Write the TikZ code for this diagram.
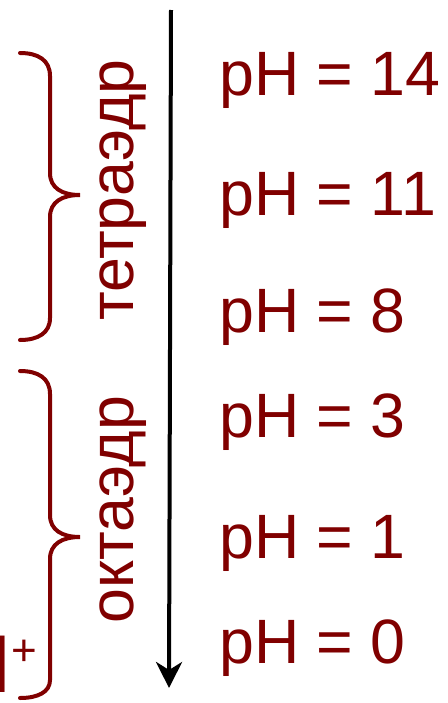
\documentclass[tikz,border=0pt]{standalone}
\usepackage{fontspec}
\setmainfont{Liberation Sans}
\usetikzlibrary{arrows.meta}
\definecolor{phred}{RGB}{128,0,0}

\begin{document}
\begin{tikzpicture}[x=0.75pt,y=0.75pt,yscale=-1,xscale=1]
\useasboundingbox (0,0) rectangle (448,703);
\tikzset{
  phlabel/.style={anchor=base west, inner sep=0pt, text=phred, font=\fontsize{47}{56}\selectfont},
  geomlabel/.style={rotate=90, anchor=base west, inner sep=0pt, text=phred, font=\fontsize{47}{56}\selectfont},
  bracket/.style={draw=phred, line width=3pt, line cap=round},
}

%Straight Lines [axis]
\coordinate (axtop) at (171,10);
\coordinate (axbot) at (169,688);
\draw [line width=3pt, -{Stealth[length=19.5pt,width=19.5pt,inset=6pt]}] (axtop) -- (axbot);

%Shape: Brace [tetra]
\draw [bracket] (20,53) .. controls (38,53) and (50,60) .. (50,76) -- (50,173) .. controls (50,188) and (62,195) .. (80,195) .. controls (62,195) and (50,202) .. (50,217) -- (50,318) .. controls (50,333) and (38,340) .. (20,340) ;
%Shape: Brace [octa]
\draw [bracket] (20,371) .. controls (38,371) and (50,378) .. (50,394) -- (50,515) .. controls (50,530) and (62,537) .. (80,537) .. controls (62,537) and (50,544) .. (50,559) -- (50,680) .. controls (50,692) and (38,698) .. (20,698) ;

% Text Node
\node [phlabel] (ph14) at (219,95) {pH = 14};
% Text Node
\node [phlabel] (ph11) at (219,215) {pH = 11};
% Text Node
\node [phlabel] (ph8) at (219,332) {pH = 8};
% Text Node
\node [phlabel] (ph3) at (219,437) {pH = 3};
% Text Node
\node [phlabel] (ph1) at (219,558) {pH = 1};
% Text Node
\node [phlabel] (ph0) at (219,663) {pH = 0};

% Text Node
\node [geomlabel] (tetra) at (133,321) {тетраэдр};
% Text Node
\node [geomlabel] (octa) at (133,624) {октаэдр};

% Text Node
\node [anchor=base west, inner sep=0pt, text=phred, font=\fontsize{61.5}{70}\selectfont] (hplus) at (-47.6,692) {H\raisebox{20pt}{\fontsize{33}{33}\selectfont +}};

\end{tikzpicture}
\end{document}
